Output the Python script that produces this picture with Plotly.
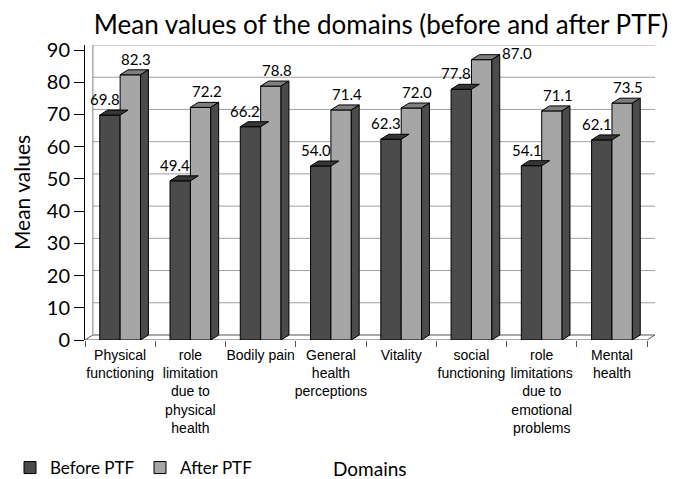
import plotly.graph_objects as go

categories = ["Physical<br>functioning", "role<br>limitation<br>due to<br>physical<br>health",
              "Bodily pain", "General<br>health<br>perceptions", "Vitality",
              "social<br>functioning", "role<br>limitations<br>due to<br>emotional<br>problems",
              "Mental<br>health"]
before = [69.8, 49.4, 66.2, 54.0, 62.3, 77.8, 54.1, 62.1]
after = [82.3, 72.2, 78.8, 71.4, 72.0, 87.0, 71.1, 73.5]
y_ticks = list(range(0, 100, 10))

W, H = 675, 479
YMAX = 90
Y0_PX, Y90_PX = 340, 50
L, R = 85, 20
n = len(categories)
px_x = (W - L - R) / n
px_y = (Y0_PX - Y90_PX) / YMAX
DXP, DYP = 8, 5
dx = DXP / px_x
dy = DYP / px_y
T = Y90_PX - DYP
B = H - Y0_PX
plot_w = W - L - R
plot_h = H - T - B
bargap = 0.42
bw = (1 - bargap) / 2
LABEL_PX = 18

C_BEF, C_BEF_TOP = "#4b4b4b", "#363636"
C_AFT, C_AFT_TOP, C_AFT_SIDE = "#a6a6a6", "#7f7f7f", "#4b4b4b"

xs = list(range(n))
fig = go.Figure()
fig.add_trace(go.Bar(x=xs, y=before, name="Before PTF", marker=dict(color=C_BEF, line=dict(color="black", width=1))))
fig.add_trace(go.Bar(x=xs, y=after, name="After PTF", marker=dict(color=C_AFT, line=dict(color="black", width=1))))

shapes = []
x_l, x_r = -0.5, n - 0.5
shapes.append(dict(type="path", xref="x", yref="y", layer="below",
                   path=f"M {x_l},0 L {x_r},0 L {x_r+dx},{dy} L {x_l+dx},{dy} Z",
                   fillcolor="white", line=dict(color="#555", width=1)))
for v in y_ticks[1:]:
    shapes.append(dict(type="line", xref="x", yref="y", layer="below",
                       x0=x_l + dx, x1=x_r + dx, y0=v + dy, y1=v + dy,
                       line=dict(color="#a0a0a0", width=1)))
shapes.append(dict(type="line", xref="x", yref="y", layer="below",
                   x0=x_l + dx, x1=x_l + dx, y0=dy, y1=YMAX + dy, line=dict(color="#808080", width=1)))

annotations = []
for i in range(n):
    for vals, off, top_c, is_after in ((before, -bw / 2, C_BEF_TOP, False), (after, bw / 2, C_AFT_TOP, True)):
        v = vals[i]
        x0 = i + off - bw / 2
        x1 = i + off + bw / 2
        shapes.append(dict(type="path", xref="x", yref="y",
                           path=f"M {x0},{v} L {x0+dx},{v+dy} L {x1+dx},{v+dy} L {x1},{v} Z",
                           fillcolor=top_c, line=dict(color="black", width=1)))
        if is_after:
            shapes.append(dict(type="path", xref="x", yref="y",
                               path=f"M {x1},0 L {x1+dx},{dy} L {x1+dx},{v+dy} L {x1},{v} Z",
                               fillcolor=C_AFT_SIDE, line=dict(color="black", width=1)))
        font = dict(family="Lato", size=15, color="black")
        if v + dy + LABEL_PX / px_y > YMAX + dy:
            annotations.append(dict(x=x1 + dx, y=v + dy, xref="x", yref="y", text=f"{v:.1f}",
                                    showarrow=False, xanchor="left", yanchor="middle", yshift=2,
                                    font=font))
        else:
            annotations.append(dict(x=i + off, y=v + dy, xref="x", yref="y", text=f"{v:.1f}",
                                    showarrow=False, yanchor="bottom", xshift=(6 if is_after else -5),
                                    font=font))

bottom_y = -(468 - Y0_PX) / plot_h
annotations.append(dict(x=(370 - L) / plot_w, y=bottom_y, xref="paper", yref="paper",
                        text="Domains", showarrow=False, xanchor="center", yanchor="middle",
                        font=dict(family="Lato", size=19, color="black")))

fig.update_layout(
    width=W, height=H,
    margin=dict(l=L, r=R, t=T, b=B, autoexpand=False),
    paper_bgcolor="white", plot_bgcolor="white",
    barmode="group", bargap=bargap, bargroupgap=0,
    title=dict(text="Mean values of the domains (before and after PTF)", x=381 / W, xanchor="center",
               y=1 - 25 / H, yanchor="middle", font=dict(family="Lato", size=26, color="black")),
    shapes=shapes, annotations=annotations,
    legend=dict(orientation="h", x=(10 - L) / plot_w, y=bottom_y, xanchor="left", yanchor="middle",
                entrywidth=85, entrywidthmode="pixels",
                font=dict(family="Lato", size=17, color="black"), traceorder="normal"),
    showlegend=True,
)
fig.update_xaxes(range=[x_l, x_r + dx], tickmode="array", tickvals=xs, ticktext=categories,
                 tickfont=dict(family="Liberation Sans", size=14, color="black"),
                 tickangle=0, ticklabelstandoff=5,
                 showgrid=False, showline=False, ticks="", zeroline=False, automargin=False,
                 minor=dict(tickvals=[k - 0.5 for k in range(n + 1)], ticks="outside", ticklen=6,
                            tickcolor="#555", showgrid=False))
fig.update_yaxes(range=[0, YMAX + dy], tickvals=y_ticks, ticks="outside", ticklen=10,
                 tickcolor="black", showline=True, linecolor="black", showgrid=False, zeroline=False,
                 automargin=False,
                 tickfont=dict(family="Lato", size=20, color="black"),
                 title=dict(text="Mean values", font=dict(family="Lato", size=21, color="black"), standoff=10))

fig.write_html("out.html", config={"displayModeBar": False},
               post_script="document.body.style.margin='0';document.body.style.overflow='hidden';")
